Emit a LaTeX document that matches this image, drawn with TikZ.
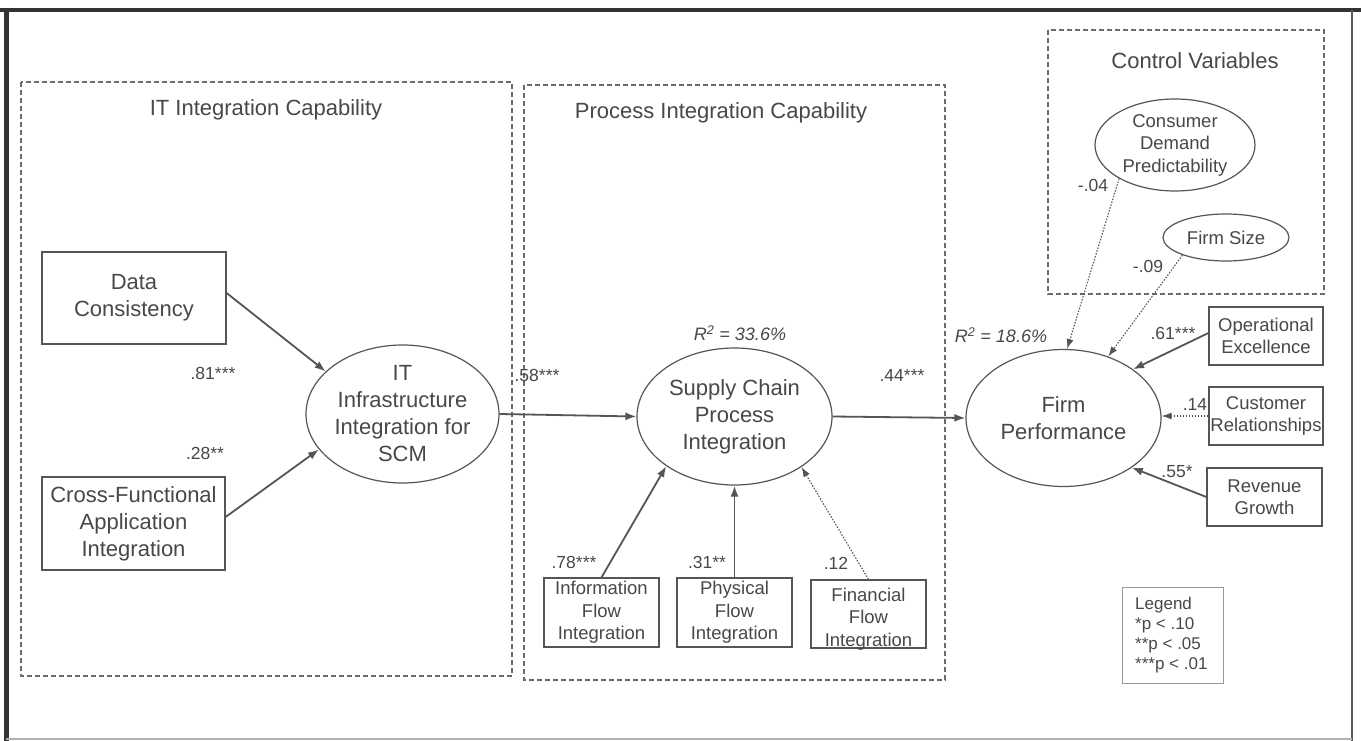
\documentclass[tikz,border=0pt]{standalone}
\usepackage{fontspec}
\setmainfont{Liberation Sans}
\usetikzlibrary{arrows.meta,shapes.geometric}
\definecolor{ink}{HTML}{484848}
\definecolor{edgec}{HTML}{555555}
\definecolor{dashc}{HTML}{6A6A6A}
\begin{document}
\begin{tikzpicture}[x=1pt,y=-1pt,
  big/.style={font=\fontsize{22}{27}\selectfont, text=ink, align=center},
  small/.style={font=\fontsize{18.5}{22.5}\selectfont, text=ink, align=center},
  coef/.style={font=\fontsize{17.5}{20}\selectfont, text=ink, inner sep=0pt},
  rbox/.style={draw=edgec, line width=1.2pt, rectangle, inner sep=0pt},
  ell/.style={draw=edgec, line width=1.2pt, ellipse, inner sep=0pt},
  grpbox/.style={draw=dashc, line width=1.1pt, dash pattern=on 5pt off 3pt},
  solarrow/.style={draw=edgec, line width=1.8pt, -{Latex[length=11pt,width=8pt]}},
  dotarrow/.style={draw=edgec, line width=1.1pt, dash pattern=on 1.5pt off 1.5pt, -{Latex[length=10pt,width=7pt]}},
]
\fill[white] (0,0) rectangle (1361,741);
\useasboundingbox (0,0) rectangle (1361,741);

% page frame
\draw[line width=4pt, black!80] (0,10) -- (1361,10);
\draw[line width=5pt, black!80] (6,8) -- (6,741);
\draw[line width=2.5pt, black!65] (1352,10) -- (1352,741);
\draw[line width=1.5pt, black!30] (6,739) -- (1352,739);

% group boxes
\draw[grpbox] (21,82) rectangle (512,676);
\draw[grpbox] (524,85) rectangle (945,680);
\draw[grpbox] (1048,30) rectangle (1324,294);
\node[big] (t1) at (266,110) {IT Integration Capability};
\node[big] (t2) at (721,113) {Process Integration Capability};
\node[big] (t3) at (1195,61) {Control Variables};

% nodes
\node[rbox, big, minimum width=184pt, minimum height=92pt] (dc) at (134,298) {Data\\Consistency};
\node[rbox, big, minimum width=183pt, minimum height=93pt] (cf) at (133.5,523.5) {Cross-Functional\\Application\\Integration};
\node[ell, big, minimum width=193pt, minimum height=138pt] (it) at (402.5,414) {IT\\Infrastructure\\Integration for\\SCM};
\node[ell, big, minimum width=195pt, minimum height=137pt] (sc) at (734.5,416.5) {Supply Chain\\Process\\Integration};
\node[ell, big, minimum width=195pt, minimum height=137pt] (fp) at (1063.5,418) {Firm\\Performance};
\node[ell, small, minimum width=160pt, minimum height=92pt] (cd) at (1175,145) {Consumer\\Demand\\Predictability};
\node[ell, small, minimum width=126pt, minimum height=47pt] (fs) at (1226,237.5) {Firm Size};
\node[rbox, small, minimum width=114pt, minimum height=58pt] (oe) at (1266,336) {Operational\\Excellence};
\node[rbox, small, minimum width=114pt, minimum height=58pt] (cr) at (1266,416) {Customer\\Relationships};
\node[rbox, small, minimum width=115pt, minimum height=58pt] (rg) at (1264.5,497) {Revenue\\Growth};
\node[rbox, small, minimum width=115pt, minimum height=69pt] (if) at (601.5,612.5) {Information\\Flow\\Integration};
\node[rbox, small, minimum width=115pt, minimum height=69pt] (pf) at (734.5,612.5) {Physical\\Flow\\Integration};
\node[rbox, minimum width=115pt, minimum height=68pt] (ff) at (868.5,614) {};
\node[small] (fft) at (868.5,619) {Financial\\Flow\\Integration};
\node[draw=black!40, line width=0.8pt, minimum width=101pt, minimum height=96pt, inner sep=0pt] (lg) at (1172.5,635) {};
\node[font=\fontsize{17}{20}\selectfont, text=ink, align=left, anchor=west, inner sep=0pt] (lgt) at (1135,635) {Legend\\*p < .10\\**p < .05\\***p < .01};

% connectors
\draw[solarrow] ([yshift=5pt]dc.east) -- (it.151.5);
\draw[solarrow] ([yshift=6.5pt]cf.east) -- (it.203);
\draw[solarrow] (it.east) -- (sc.west);
\draw[solarrow] (sc.east) -- (fp.west);
\draw[solarrow] (if.north) -- (sc.216.7);
\draw[solarrow] (pf.north) -- (sc.south);
\draw[dotarrow] (ff.north) -- (sc.323.3);
\draw[dotarrow] (cd.211) -- (fp.87);
\draw[dotarrow] (fs.202) -- (fp.54);
\draw[solarrow] ([yshift=3pt]oe.west) -- (fp.35.7);
\draw[dotarrow] (cr.west) -- (fp.east |- cr.west);
\draw[solarrow] (rg.west) -- (fp.324.3);

% coefficients
\node[coef] (c1) at (213,373) {.81***};
\node[coef] (c2) at (205,453) {.28**};
\node[coef] (c3) at (537,375) {.58***};
\node[coef] (c4) at (902,375) {.44***};
\node[coef, font=\fontsize{18}{20}\selectfont\itshape] (r1) at (740,333) {R\textsuperscript{2} = 33.6\%};
\node[coef, font=\fontsize{18}{20}\selectfont\itshape] (r2) at (1001,335) {R\textsuperscript{2} = 18.6\%};
\node[coef] (c5) at (1173,333) {.61***};
\node[coef] (c6) at (1195,404) {.14};
\node[coef] (c7) at (1177,472) {.55*};
\node[coef] (c8) at (574,562) {.78***};
\node[coef] (c9) at (707,562) {.31**};
\node[coef] (c10) at (836,563) {.12};
\node[coef] (c11) at (1093,185) {-.04};
\node[coef] (c12) at (1148,266) {-.09};
\end{tikzpicture}
\end{document}
